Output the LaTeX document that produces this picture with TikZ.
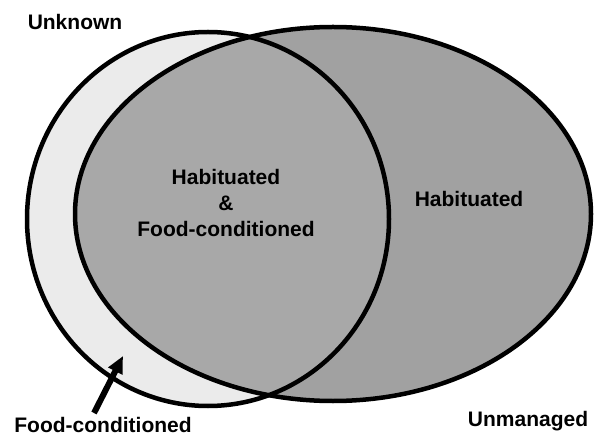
\documentclass[tikz,border=0pt]{standalone}
\usepackage{fontspec}
\setmainfont{Liberation Sans}
\usetikzlibrary{arrows.meta,positioning}

\begin{document}
\begin{tikzpicture}[x=1pt,y=-1pt,
        lbl/.style={font=\fontsize{21}{26}\selectfont\bfseries, inner sep=0pt, align=center},
        rim/.style={draw=black, line width=4.5pt}]
        \useasboundingbox (0,0) rectangle (594,438);
        % regions
        \fill [black!8] (208,219) ellipse (181 and 187);
        \fill [black!37] (333,214) ellipse (258 and 187);
        \begin{scope}
            \clip (208,219) ellipse (181 and 187);
            \fill [black!34] (333,214) ellipse (258 and 187);
        \end{scope}
        \draw [rim] (208,219) ellipse (181 and 187);
        \draw [rim] (333,214) ellipse (258 and 187);
        % labels
        \node [lbl] (unknown) at (75,22) {Unknown};
        \node [lbl] (both) at (226,203) {Habituated\\[0pt]\&\\[0pt]Food-conditioned};
        \node [lbl] (hab) at (469,199) {Habituated};
        \node [lbl] (food) at (103,425) {Food-conditioned};
        \node [lbl] (unman) at (528,421) {Unmanaged};
        \coordinate (foodtip) at (123,356);
        \draw [line width=6pt, -{Triangle[length=17pt,width=15pt]}] (94,413) -- (foodtip);
    \end{tikzpicture}
\end{document}
